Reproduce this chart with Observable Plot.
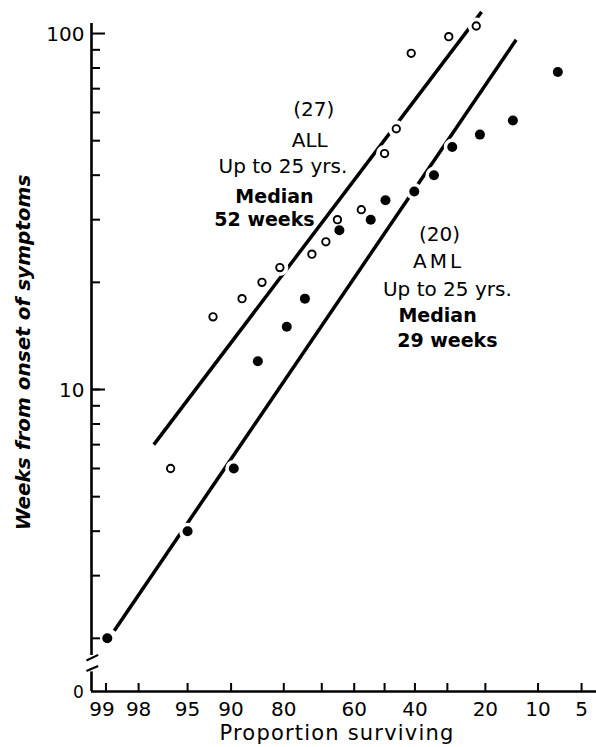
<!DOCTYPE html>
<html><head><meta charset="utf-8">
<script src="https://cdn.jsdelivr.net/npm/d3@7"></script>
<script src="https://cdn.jsdelivr.net/npm/@observablehq/plot@0.6"></script>
<style>
html,body{margin:0;padding:0;background:#fff;}
#chart svg{display:block;}
</style></head><body><div id="chart"></div>
<script>
// ---- data ----
// AML, up to 25 yrs (filled dots): proportion surviving (%) vs weeks from onset
const amlSurviving = [98.97, 95.0, 89.6, 85.5, 79.3, 74.7, 64.7, 54.6, 49.7, 40.2, 34.0, 28.6, 21.3, 14.2, 7.4];
const amlWeeks     = [2.0, 4.0, 6.0, 12.0, 15.0, 18.0, 28.0, 30.0, 34.0, 36.0, 40.0, 48.0, 52.0, 57.0, 78.0];
// ALL, up to 25 yrs (open circles)
const allSurviving = [96.3, 92.4, 88.3, 84.7, 80.9, 72.8, 68.8, 65.3, 57.7, 50.0, 46.1, 41.2, 29.6, 22.2];
const allWeeks     = [6.0, 16.0, 18.0, 20.0, 22.0, 24.0, 26.0, 30.0, 32.0, 46.0, 54.0, 88.0, 98.0, 105.0];
// fitted lines (end points)
const allFitSurviving = [97.3, 20.9];
const allFitWeeks     = [7.0, 115.0];
const amlFitSurviving = [98.8, 13.6];
const amlFitWeeks     = [2.1, 96.0];
// axes
const xTickValues = [99, 98, 95, 90, 80, 70, 60, 50, 40, 30, 20, 10, 5];
const xTickLabels = [98, 95, 90, 80, 60, 40, 20, 10, 5];
const xFirstLabel = [99];
const yTickValues = [2, 3, 4, 5, 6, 7, 8, 9, 10, 20, 30, 40, 50, 60, 70, 80, 90];
const yMajorTicks = [10, 100];
const survivingDomain = [99.28, 3.84];
const weeksDomain = [1.418, 106.7];
const weeksBreak = [1.79, 1.61];
const breakMarkSurviving = [99.36, 99.16];
const breakMarkWeeks = [[1.733, 1.797], [1.618, 1.672]];
// annotations
const noteText      = ["(27)", "ALL", "Up to 25 yrs.", "(20)", "AML", "Up to 25 yrs."];
const noteSurviving = [72.3, 73.4, 80.2, 32.3, 32.6, 30.0];
const noteWeeks     = [61.2, 50.1, 42.2, 27.3, 22.9, 19.1];
const boldText      = ["Median", "52 weeks", "Median", "29 weeks"];
const boldSurviving = [82.1, 84.2, 32.9, 30.0];
const boldWeeks     = [34.8, 30.0, 16.1, 13.7];
const xLabel = "Proportion surviving";
const yLabel = "Weeks from onset of symptoms";

// inverse normal CDF (Acklam) for the probability-paper x scale
function probit(p) {
  const a = [-3.969683028665376e+01, 2.209460984245205e+02, -2.759285104469687e+02, 1.383577518672690e+02, -3.066479806614716e+01, 2.506628277459239e+00];
  const b = [-5.447609879822406e+01, 1.615858368580409e+02, -1.556989798598866e+02, 6.680131188771972e+01, -1.328068155288572e+01];
  const c = [-7.784894002430293e-03, -3.223964580411365e-01, -2.400758277161838e+00, -2.549671349163364e+00, 4.374664141464968e+00, 2.938163982698783e+00];
  const d = [7.784695709041462e-03, 3.224671290700398e-01, 2.445134137142996e+00, 3.754408661907416e+00];
  const pl = 0.02425, ph = 1 - pl;
  let q, r;
  if (p < pl) { q = Math.sqrt(-2 * Math.log(p)); return (((((c[0]*q+c[1])*q+c[2])*q+c[3])*q+c[4])*q+c[5]) / ((((d[0]*q+d[1])*q+d[2])*q+d[3])*q+1); }
  if (p <= ph) { q = p - 0.5; r = q*q; return (((((a[0]*r+a[1])*r+a[2])*r+a[3])*r+a[4])*r+a[5])*q / (((((b[0]*r+b[1])*r+b[2])*r+b[3])*r+b[4])*r+1); }
  q = Math.sqrt(-2 * Math.log(1 - p)); return -(((((c[0]*q+c[1])*q+c[2])*q+c[3])*q+c[4])*q+c[5]) / ((((d[0]*q+d[1])*q+d[2])*q+d[3])*q+1);
}
const z = (pct) => probit(pct / 100);

const aml = amlSurviving.map((s, i) => ({z: z(s), w: amlWeeks[i]}));
const all = allSurviving.map((s, i) => ({z: z(s), w: allWeeks[i]}));
const allFit = allFitSurviving.map((s, i) => ({z: z(s), w: allFitWeeks[i]}));
const amlFit = amlFitSurviving.map((s, i) => ({z: z(s), w: amlFitWeeks[i]}));
const xLeft = z(survivingDomain[0]);

const FONT = "DejaVu Sans";
const W = 596, H = 747, ML = 91, MR = 0, MT = 23, MB = 56;
const frameW = W - ML - MR, frameH = H - MT - MB;

const chart = Plot.plot({
  width: W, height: H,
  marginLeft: ML, marginRight: MR, marginTop: MT, marginBottom: MB,
  style: {fontFamily: FONT, background: "white", color: "black"},
  x: {type: "linear", domain: survivingDomain.map(z), axis: null},
  y: {type: "log", domain: weeksDomain, axis: null},
  marks: [
    // fitted lines
    Plot.line(allFit, {x: "z", y: "w", stroke: "black", strokeWidth: 3.5, strokeLinecap: "butt"}),
    Plot.line(amlFit, {x: "z", y: "w", stroke: "black", strokeWidth: 3.5, strokeLinecap: "butt"}),
    // white halos break the lines around the dots
    Plot.dot([...all, ...aml], {x: "z", y: "w", r: 5, fill: "white", stroke: "white", strokeWidth: 7}),
    Plot.dot(aml, {x: "z", y: "w", r: 5, fill: "black"}),
    Plot.dot(all, {x: "z", y: "w", r: 3.7, fill: "white", stroke: "black", strokeWidth: 1.9}),
    // axes
    Plot.ruleY([weeksDomain[0]], {stroke: "black", strokeWidth: 2.6}),
    Plot.ruleX([xLeft], {y1: weeksBreak[0], y2: weeksDomain[1], stroke: "black", strokeWidth: 2.6}),
    Plot.ruleX([xLeft], {y1: weeksDomain[0], y2: weeksBreak[1], stroke: "black", strokeWidth: 2.6}),
    Plot.link(breakMarkWeeks, {x1: z(breakMarkSurviving[0]), x2: z(breakMarkSurviving[1]), y1: d => d[0], y2: d => d[1], stroke: "black", strokeWidth: 2.2}),
    Plot.tickY(yTickValues, {y: d => d, insetRight: frameW - 9, stroke: "black", strokeWidth: 2}),
    Plot.tickY(yMajorTicks, {y: d => d, insetRight: frameW - 14, stroke: "black", strokeWidth: 2}),
    Plot.tickX(xTickValues, {x: d => z(d), insetTop: frameH - 8, stroke: "black", strokeWidth: 2}),
    Plot.text(yMajorTicks, {y: d => d, text: d => String(d), frameAnchor: "left", textAnchor: "end", lineAnchor: "middle", dx: -7, dy: 1.5, fontSize: 20, fill: "black"}),
    Plot.text(xTickLabels, {x: d => z(d), text: d => String(d), frameAnchor: "bottom", textAnchor: "middle", lineAnchor: "middle", dy: 18, fontSize: 20, fill: "black"}),
    Plot.text(xFirstLabel, {x: d => z(d), text: d => String(d), frameAnchor: "bottom", textAnchor: "middle", lineAnchor: "middle", dx: -4, dy: 18, fontSize: 20, fill: "black"}),
    Plot.text(["0"], {frameAnchor: "bottom-left", textAnchor: "middle", lineAnchor: "middle", dx: -13, dy: 1, fontSize: 17, fill: "black"}),
    Plot.text([xLabel], {frameAnchor: "bottom", textAnchor: "middle", lineAnchor: "middle", dx: -7, dy: 41.5, fontSize: 21, fill: "black"}),
    Plot.text([yLabel], {frameAnchor: "left", textAnchor: "middle", lineAnchor: "middle", rotate: -90, dx: -68, dy: -5, fontSize: 20, fontWeight: "bold", fontStyle: "italic", fill: "black"}),
    // annotations
    Plot.text(d3.range(noteText.length), {x: i => z(noteSurviving[i]), y: i => noteWeeks[i], text: i => noteText[i], fontSize: 20, fill: "black"}),
    Plot.text(d3.range(boldText.length), {x: i => z(boldSurviving[i]), y: i => boldWeeks[i], text: i => boldText[i], fontSize: 19, fontWeight: "bold", fill: "black"})
  ]
});
const svgSel = d3.select(chart);
svgSel.selectAll("text").filter(function () { return this.textContent === "AML"; }).attr("letter-spacing", "3px");
svgSel.selectAll("text").filter(function () { return this.textContent === xLabel; }).attr("letter-spacing", "1.2px");
document.getElementById("chart").appendChild(chart);
</script></body></html>
